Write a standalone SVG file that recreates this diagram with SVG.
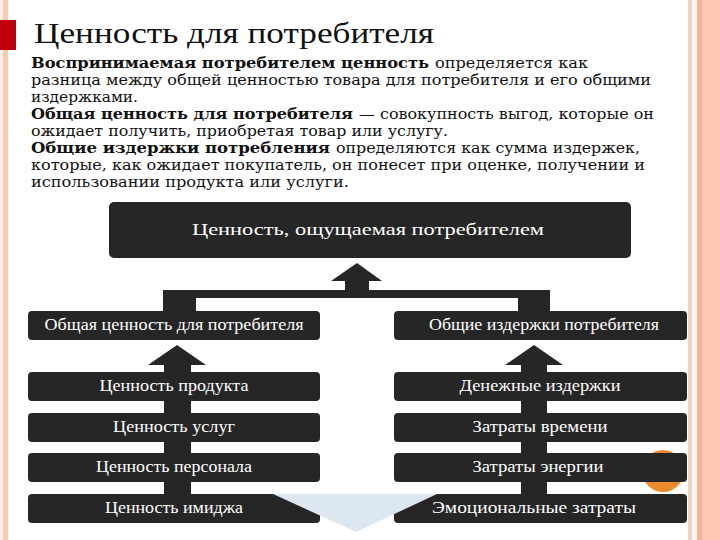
<svg xmlns="http://www.w3.org/2000/svg" width="720" height="540" viewBox="0 0 720 540">
<style>
.body{font-family:"DejaVu Serif","Liberation Serif",serif;font-size:14.5px;fill:#111}
.b{font-weight:bold}
.title{font-family:"Liberation Serif","DejaVu Serif",serif;font-size:29px;fill:#111}
.box{fill:#262626}
.lbl{font-family:"Liberation Serif","DejaVu Serif",serif;font-size:16px;fill:#fff;text-anchor:middle}
.arrow{fill:#262626}
</style>
<rect width="720" height="540" fill="#fff"/>
<!-- borders -->
<rect x="0" y="0" width="3" height="540" fill="#fdeee6"/>
<rect x="3" y="0" width="5" height="540" fill="#fbc8b0"/>
<rect x="688" y="0" width="4" height="540" fill="#ecd0c0"/>
<rect x="692" y="0" width="5" height="540" fill="#fdf4ec"/>
<rect x="697" y="0" width="5" height="540" fill="#f6b298"/>
<rect x="702" y="0" width="18" height="540" fill="#fcc8b4"/>
<rect x="0" y="20" width="16" height="30" fill="#c0000b"/>
<!-- title -->
<text class="title" x="34" y="43" textLength="400" lengthAdjust="spacingAndGlyphs">Ценность для потребителя</text>
<!-- body text -->
<g class="body">
<text class="b" x="31" y="68" textLength="398" lengthAdjust="spacingAndGlyphs">Воспринимаемая потребителем ценность</text>
<text x="435" y="68" textLength="153" lengthAdjust="spacingAndGlyphs">определяется как</text>
<text x="31" y="85" textLength="620" lengthAdjust="spacingAndGlyphs">разница между общей ценностью товара для потребителя и его общими</text>
<text x="31" y="102" textLength="107" lengthAdjust="spacingAndGlyphs">издержками.</text>
<text class="b" x="31" y="119" textLength="322" lengthAdjust="spacingAndGlyphs">Общая ценность для потребителя</text>
<text x="359" y="119" textLength="295" lengthAdjust="spacingAndGlyphs">— совокупность выгод, которые он</text>
<text x="31" y="136" textLength="417" lengthAdjust="spacingAndGlyphs">ожидает получить, приобретая товар или услугу.</text>
<text class="b" x="31" y="153" textLength="299" lengthAdjust="spacingAndGlyphs">Общие издержки потребления</text>
<text x="336" y="153" textLength="304" lengthAdjust="spacingAndGlyphs">определяются как сумма издержек,</text>
<text x="31" y="170" textLength="614" lengthAdjust="spacingAndGlyphs">которые, как ожидает покупатель, он понесет при оценке, получении и</text>
<text x="31" y="187" textLength="318" lengthAdjust="spacingAndGlyphs">использовании продукта или услуги.</text>
</g>
<!-- decorative orange circle (behind boxes) -->
<circle cx="663" cy="471" r="21" fill="#ee8a2e"/>
<!-- connectors -->
<g id="connectors" class="arrow">
<path d="M357,263 L382,281 L369,281 L369,290 L550,290 L550,311 L518,311 L518,298 L196,298 L196,311 L163,311 L163,290 L345,290 L345,281 L331,281 Z"/>
<path d="M177,345 L206,365 L191,365 L191,494 L164,494 L164,365 L148,365 Z"/>
<path d="M534,345 L563,365 L547,365 L547,494 L521,494 L521,365 L505,365 Z"/>
</g>
<!-- nodes -->
<g id="node-top"><rect class="box" x="109" y="202" width="522" height="56" rx="5"/><text class="lbl" x="368" y="235" font-size="19" textLength="352" lengthAdjust="spacingAndGlyphs">Ценность, ощущаемая потребителем</text></g>
<g id="node-total-value"><rect class="box" x="28" y="311" width="292" height="29" rx="4"/><text class="lbl" x="174" y="330" textLength="259" lengthAdjust="spacingAndGlyphs">Общая ценность для потребителя</text></g>
<g id="node-total-costs"><rect class="box" x="394" y="311" width="293" height="29" rx="4"/><text class="lbl" x="544" y="330" textLength="230" lengthAdjust="spacingAndGlyphs">Общие издержки потребителя</text></g>
<g id="node-product"><rect class="box" x="28" y="372" width="292" height="29" rx="4"/><text class="lbl" x="174" y="391" textLength="149" lengthAdjust="spacingAndGlyphs">Ценность продукта</text></g>
<g id="node-services"><rect class="box" x="28" y="413" width="292" height="29" rx="4"/><text class="lbl" x="174" y="432" textLength="122" lengthAdjust="spacingAndGlyphs">Ценность услуг</text></g>
<g id="node-personnel"><rect class="box" x="28" y="453" width="292" height="29" rx="4"/><text class="lbl" x="174" y="472" textLength="156" lengthAdjust="spacingAndGlyphs">Ценность персонала</text></g>
<g id="node-image"><rect class="box" x="28" y="494" width="292" height="29" rx="4"/><text class="lbl" x="174" y="513" textLength="138" lengthAdjust="spacingAndGlyphs">Ценность имиджа</text></g>
<g id="node-money"><rect class="box" x="394" y="372" width="293" height="29" rx="4"/><text class="lbl" x="540" y="391" textLength="161" lengthAdjust="spacingAndGlyphs">Денежные издержки</text></g>
<g id="node-time"><rect class="box" x="394" y="413" width="293" height="29" rx="4"/><text class="lbl" x="540" y="432" textLength="135" lengthAdjust="spacingAndGlyphs">Затраты времени</text></g>
<g id="node-energy"><rect class="box" x="394" y="453" width="293" height="29" rx="4"/><text class="lbl" x="538" y="472" textLength="131" lengthAdjust="spacingAndGlyphs">Затраты энергии</text></g>
<g id="node-emotional"><rect class="box" x="394" y="494" width="293" height="29" rx="4"/><text class="lbl" x="534" y="513" textLength="204" lengthAdjust="spacingAndGlyphs">Эмоциональные затраты</text></g>
<!-- light blue wedge on top -->
<polygon points="273,494 437,494 356,532" fill="#dde7f1"/>
</svg>
